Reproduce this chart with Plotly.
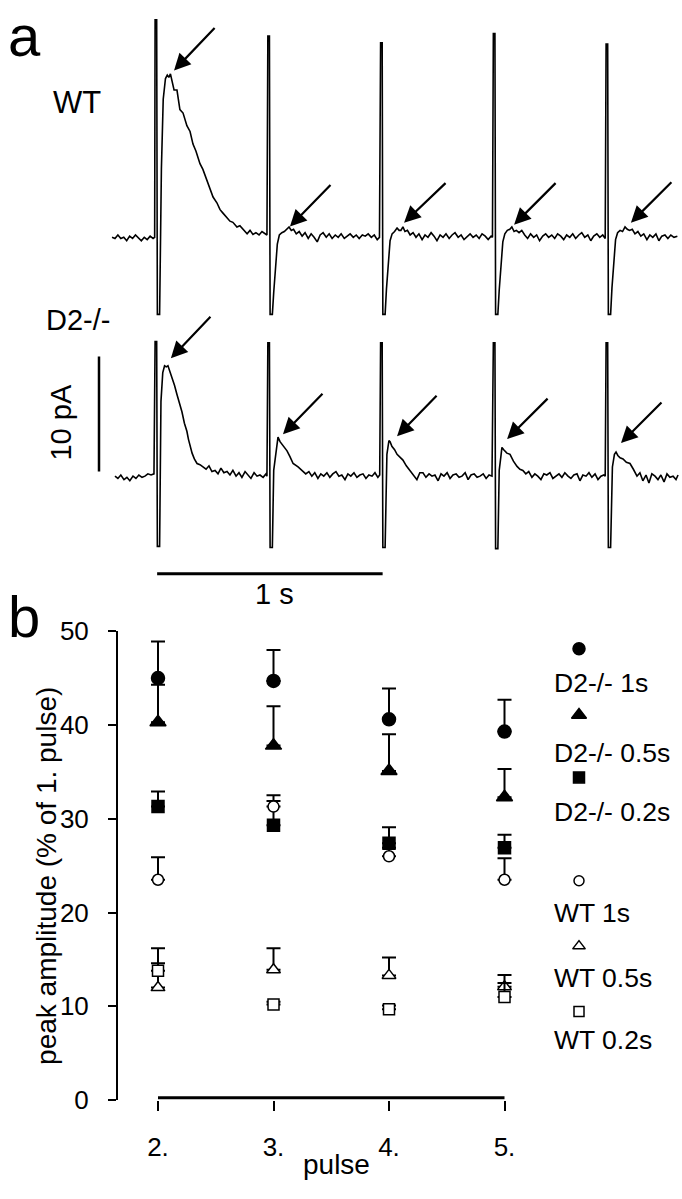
import plotly.graph_objects as go

# ---------------- Panel a: example current traces (time in ms, current in pA) -------------
WT_T = [-195, -182, -169, -156, -143, -130, -117, -104, -91, -78, -65, -52, -39, -26, -13, -6,
        -4, 3, 6, 16, 24, 32, 42, 50, 57, 64, 72, 80,
        93, 106, 120, 137, 151, 164, 177, 195, 208, 226, 239, 253, 270, 284, 297, 315, 328, 341,
        359, 372, 386, 404, 417, 430, 443, 457, 470, 483, 492,
        496, 503, 506, 516, 522, 530, 538, 547, 558, 569, 580, 590, 600, 610,
        622, 635, 648, 661, 675, 688, 701, 715, 728, 741, 755, 768, 781, 795, 808, 821, 835, 848,
        861, 875, 888, 901, 915, 928, 941, 955, 968, 981, 991,
        996, 1003, 1006, 1016, 1022, 1030, 1038, 1047, 1058, 1069, 1078, 1086, 1095, 1104, 1115,
        1127, 1140, 1153, 1166, 1180, 1193, 1206, 1220, 1233, 1246, 1260, 1273, 1286, 1300, 1313,
        1326, 1340, 1353, 1366, 1380, 1393, 1406, 1420, 1433, 1446, 1460, 1473, 1486, 1492,
        1496, 1503, 1506, 1516, 1522, 1530, 1538, 1547, 1558, 1569, 1578, 1588, 1598, 1610, 1622,
        1635, 1648, 1661, 1675, 1688, 1701, 1715, 1728, 1741, 1755, 1768, 1781, 1795, 1808, 1821,
        1835, 1848, 1861, 1875, 1888, 1901, 1915, 1928, 1941, 1955, 1968, 1981, 1992,
        1996, 2003, 2006, 2016, 2022, 2030, 2038, 2047, 2058, 2069, 2080, 2090, 2100, 2112, 2124,
        2137, 2150, 2163, 2177, 2190, 2203, 2217, 2230, 2243, 2257, 2270, 2283, 2297, 2312]
WT_I = [0.0, -0.1, 0.2, -0.1, 0.0, -0.3, 0.1, -0.1, 0.2, -0.1, -0.3, 0.0, -0.2, 0.1, -0.1, 0.0,
        18.9, 18.9, -6.7, -6.7, 6.0, 12.0, 13.8, 14.1, 13.9, 14.2, 13.6, 12.8,
        12.8, 11.1, 10.8, 9.7, 9.2, 8.1, 7.5, 6.4, 5.9, 4.9, 4.2, 3.5, 3.0, 2.4, 2.1, 1.7, 1.4, 1.3,
        0.9, 1.0, 0.7, 0.3, 0.6, 0.25, 0.4, 0.2, 0.5, 0.3, 0.2,
        17.5, 17.5, -6.7, -6.7, -4.8, -2.4, -0.6, 0.2, 0.4, 0.5, 0.7, 0.9, 0.6, 0.7,
        0.3, 0.5, 0.1, 0.4, -0.1, 0.3, 0.0, -0.4, 0.2, 0.4, 0.0, 0.3, -0.1, 0.2, 0.0, 0.3, -0.1, 0.1,
        0.3, 0.0, 0.2, -0.1, 0.2, 0.1, 0.3, 0.0, 0.2, -0.2, 0.0,
        16.9, 16.9, -6.7, -6.7, -4.5, -2.0, -0.3, 0.3, 0.5, 0.8, 0.6, 0.6, 0.9, 0.5, 0.6,
        0.2, 0.4, 0.0, 0.3, -0.2, 0.2, 0.0, 0.4, 0.1, -0.3, 0.2, 0.0, 0.3, -0.1, 0.2,
        0.4, 0.0, 0.2, -0.2, 0.1, 0.3, 0.0, 0.2, -0.1, 0.3, 0.1, -0.2, 0.1, 0.0,
        17.7, 17.7, -6.7, -6.7, -4.6, -2.2, -0.4, 0.3, 0.6, 0.7, 0.9, 0.5, 0.6, 0.4, 0.6,
        0.2, -0.1, 0.3, 0.0, 0.2, -0.3, 0.1, 0.3, 0.0, 0.2, -0.1, 0.3, 0.1, -0.2, 0.2,
        0.0, 0.3, -0.1, 0.2, 0.4, 0.0, 0.2, -0.3, 0.1, 0.3, 0.0, 0.2, -0.1,
        16.8, 16.8, -6.7, -6.7, -4.4, -2.0, -0.2, 0.4, 0.6, 0.5, 0.9, 0.7, 0.6, 0.7, 0.3,
        0.5, 0.1, 0.3, -0.2, 0.2, 0.0, 0.3, -0.3, 0.1, 0.2, -0.1, 0.2, 0.0, 0.1]

D2_T = [-182, -169, -156, -142, -129, -116, -102, -89, -76, -62, -49, -36, -22, -9,
        -4, 3, 6, 16, 22, 30, 38, 46, 53, 62, 72, 82, 93, 104, 115, 126, 137, 144, 151, 160, 170,
        182, 195, 208, 222, 235, 248, 262, 275, 288, 301, 315, 328, 341, 355, 368, 381, 395, 408,
        421, 435, 448, 461, 475, 488, 492,
        496, 503, 506, 516, 522, 528, 537, 541, 550, 563, 581, 594, 608, 630, 652,
        664, 678, 691, 704, 718, 731, 744, 758, 771, 784, 798, 811, 824, 838, 851, 864, 878, 891,
        904, 918, 931, 944, 958, 971, 984, 992,
        996, 1003, 1006, 1016, 1024, 1033, 1038, 1046, 1058, 1069, 1082, 1095, 1110, 1126, 1142,
        1157, 1170, 1184, 1197, 1211, 1224, 1237, 1251, 1264, 1277, 1291, 1304, 1317, 1331, 1344,
        1357, 1371, 1384, 1397, 1411, 1424, 1437, 1451, 1464, 1477, 1490,
        1496, 1503, 1506, 1516, 1522, 1530, 1534, 1542, 1556, 1570, 1585, 1601, 1614, 1627, 1640,
        1653, 1667, 1680, 1693, 1707, 1720, 1733, 1747, 1760, 1773, 1787, 1800, 1813, 1827, 1840,
        1853, 1867, 1880, 1893, 1907, 1920, 1933, 1947, 1960, 1973, 1986, 1992,
        1996, 2003, 2006, 2016, 2024, 2033, 2040, 2048, 2058, 2071, 2086, 2102, 2117, 2133, 2146,
        2159, 2173, 2186, 2199, 2213, 2226, 2239, 2253, 2266, 2279, 2293, 2306, 2315]
D2_I = [0.0, -0.2, 0.1, -0.3, -0.1, -0.4, 0.0, -0.2, 0.1, -0.1, 0.0, 0.2, 0.1, 0.2,
        11.7, 11.7, -6.1, -6.1, 6.5, 9.0, 9.6, 9.5, 9.6, 9.1, 8.6, 7.9, 7.1, 6.4, 5.6, 4.6, 3.9, 3.2, 2.6, 2.0, 1.5,
        1.1, 1.0, 0.8, 0.6, 0.9, 0.4, 0.5, 0.2, 0.7, 0.3, 0.4, 0.1, 0.5, 0.0, 0.3, -0.1, 0.4, 0.1,
        -0.2, 0.3, 0.0, 0.1, -0.1, 0.2, 0.0,
        11.6, 11.6, -6.2, -6.2, 0.5, 1.5, 2.8, 3.4, 3.0, 2.7, 2.2, 1.7, 1.1, 0.8, 0.4,
        0.2, 0.4, 0.0, 0.3, -0.2, 0.2, 0.0, 0.3, -0.1, 0.2, 0.4, 0.0, 0.1, -0.3, 0.2,
        0.0, 0.3, -0.1, 0.1, 0.2, -0.2, 0.1, 0.0, 0.3, -0.1, 0.1,
        11.6, 11.6, -6.2, -6.2, 1.9, 3.1, 3.0, 2.6, 2.3, 1.9, 1.6, 1.4, 0.9, 0.5, 0.1,
        -0.3, 0.3, 0.3, -0.1, 0.2, 0.0, 0.1, -0.4, 0.2, 0.0, 0.3, -0.2, 0.1, 0.2, -0.1,
        0.0, 0.3, -0.3, 0.1, 0.2, -0.1, 0.0, 0.2, -0.2, 0.1, 0.0,
        11.6, 11.6, -6.3, -6.3, 0.5, 1.8, 2.5, 2.3, 2.0, 1.9, 1.3, 0.85, 0.6, 0.5, 0.2,
        0.4, -0.1, 0.2, 0.0, -0.3, 0.2, 0.1, 0.3, -0.2, 0.0, 0.2, -0.1, 0.3, 0.0, -0.2,
        0.1, 0.2, -0.4, 0.1, 0.0, 0.3, -0.1, 0.2, -0.3, 0.0, 0.1, 0.0,
        11.6, 11.6, -6.2, -6.2, 0.8, 1.9, 2.1, 1.8, 1.6, 1.5, 1.2, 1.1, 0.6, 0.0, 0.3,
        -0.4, 0.1, -0.6, 0.2, 0.0, -0.3, 0.1, -0.5, 0.2, -0.1, 0.0, -0.3, 0.1]

# arrows (tip time ms, tip pA) marking the response peaks
WT_ARROWS = [(80, 14.5), (594, 0.93), (1100, 1.27), (1588, 1.1), (2106, 1.27)]
D2_ARROWS = [(66, 10.25), (563, 3.64), (1069, 3.47), (1557, 3.22), (2062, 2.88)]

# ---------------- Panel b: peak amplitude (% of 1. pulse) -------------
PULSES = [2, 3, 4, 5]
PULSE_LABELS = ["2.", "3.", "4.", "5."]
D2_1S = [45.0, 44.7, 40.6, 39.3]
D2_1S_ERR = [3.9, 3.3, 3.3, 3.4]
D2_05S = [40.3, 37.8, 35.1, 32.3]
D2_05S_ERR = [4.0, 4.2, 3.9, 3.0]
D2_02S = [31.3, 29.3, 27.4, 26.9]
D2_02S_ERR = [1.6, 2.6, 1.7, 1.4]
WT_1S = [23.5, 31.3, 26.0, 23.5]
WT_1S_ERR = [2.4, 1.2, 0.9, 2.3]
WT_05S = [12.0, 13.9, 13.3, 12.1]
WT_05S_ERR = [4.2, 2.3, 1.9, 1.25]
WT_02S = [13.8, 10.2, 9.7, 11.0]
WT_02S_ERR = [0.8, 0.3, 0.4, 1.5]

SERIES = [
    ("D2-/- 1s", D2_1S, D2_1S_ERR, "circle", 13, "black"),
    ("D2-/- 0.5s", D2_05S, D2_05S_ERR, "triangle-up", 14, "black"),
    ("D2-/- 0.2s", D2_02S, D2_02S_ERR, "square", 12, "black"),
    ("WT 1s", WT_1S, WT_1S_ERR, "circle", 11, "white"),
    ("WT 0.5s", WT_05S, WT_05S_ERR, "triangle-up", 12, "white"),
    ("WT 0.2s", WT_02S, WT_02S_ERR, "square", 11, "white"),
]

FONT = "Liberation Sans, Arial, Helvetica, sans-serif"
W, H = 682, 1199


def px(x):
    return x / W


def py(y):
    return 1 - y / H


fig = go.Figure()

# panel a axes: px = 156 + 0.2255 * t ; WT base at 228 px, D2 base at 473 px, 11.8 px/pA
T_SCALE = 0.2255
T0_PX = 156
I_SCALE = 11.8
t_range = [(0 - T0_PX) / T_SCALE, (W - T0_PX) / T_SCALE]
WT_BASE, D2_BASE = 228, 473
wt_top, wt_bot = 0, 330
d2_top, d2_bot = 330, 600

fig.add_trace(go.Scatter(x=WT_T, y=WT_I, mode="lines", line=dict(color="black", width=1.6),
                         xaxis="x", yaxis="y", showlegend=False, hoverinfo="skip"))
fig.add_trace(go.Scatter(x=D2_T, y=D2_I, mode="lines", line=dict(color="black", width=1.6),
                         xaxis="x", yaxis="y2", showlegend=False, hoverinfo="skip"))

# panel b series
for name, vals, err, sym, size, fill in SERIES:
    fig.add_trace(go.Scatter(
        x=PULSES, y=vals, mode="markers", name=name, showlegend=False,
        marker=dict(symbol=sym, size=size, color=fill, line=dict(color="black", width=1.5)),
        error_y=dict(type="data", symmetric=False, array=err, arrayminus=[0] * len(err),
                     color="black", thickness=2, width=7),
        xaxis="x2", yaxis="y3", cliponaxis=False))

# panel b legend (marker above label)
b_y0_px, b_y1_px = 1113, 632
b_x2_px, b_x5_px = 158, 504.5
unit_x = (b_x5_px - b_x2_px) / 3
unit_y = (b_y0_px - b_y1_px) / 50
leg_marker_py = [650, 718, 782, 888, 955, 1022]
leg_text_py = [685, 757, 817, 921, 988, 1051]
leg_x_val = 5 + (579 - b_x5_px) / unit_x
for (name, vals, err, sym, size, fill), mpy, tpy in zip(SERIES, leg_marker_py, leg_text_py):
    fig.add_trace(go.Scatter(
        x=[leg_x_val], y=[(b_y0_px - mpy) / unit_y], mode="markers", showlegend=False,
        marker=dict(symbol=sym, size=size - 1, color=fill, line=dict(color="black", width=1.5)),
        xaxis="x2", yaxis="y3", cliponaxis=False, hoverinfo="skip"))

annotations = []
for (name, *_), tpy in zip(SERIES, leg_text_py):
    annotations.append(dict(text=name, x=px(552), y=py(tpy), xref="paper", yref="paper",
                            xanchor="left", yanchor="middle", showarrow=False,
                            font=dict(size=26.5, color="black", family=FONT)))

# arrows
for (t, i), (ax, ay) in zip(WT_ARROWS, [(42, -44), (42, -43), (43, -41), (43, -43), (42, -42)]):
    annotations.append(dict(x=t, y=i, xref="x", yref="y", ax=ax, ay=ay, text="",
                            showarrow=True, arrowhead=2, arrowsize=1.5, arrowwidth=2.2,
                            arrowcolor="black"))
for (t, i), (ax, ay) in zip(D2_ARROWS, [(41, -43), (41, -42), (41, -42), (42, -42), (42, -42)]):
    annotations.append(dict(x=t, y=i, xref="x", yref="y2", ax=ax, ay=ay, text="",
                            showarrow=True, arrowhead=2, arrowsize=1.5, arrowwidth=2.2,
                            arrowcolor="black"))


# texts
def txt(s, x, y, size, angle=0, xanchor="center"):
    annotations.append(dict(text=s, x=px(x), y=py(y), xref="paper", yref="paper",
                            xanchor=xanchor, yanchor="middle", showarrow=False, textangle=angle,
                            font=dict(size=size, color="black", family=FONT)))


txt("a", 24, 21, 58)
txt("b", 24, 617, 58)
txt("WT", 77, 90, 31)
txt("D2-/-", 78, 313, 29)
txt("10 pA", 61, 418, 29, angle=-90)
txt("1 s", 274, 594, 29)
txt("peak amplitude (% of 1. pulse)", 47, 883, 28, angle=-90)
txt("pulse", 336, 1179, 28)

# scale bars and x baseline of panel b
shapes = [
    dict(type="line", xref="x", yref="y2", x0=(99 - T0_PX) / T_SCALE, x1=(99 - T0_PX) / T_SCALE,
         y0=0.4, y1=10.4, line=dict(color="black", width=2.5)),
    dict(type="line", xref="x", yref="y2", x0=5, x1=1005, y0=(D2_BASE - 573) / I_SCALE,
         y1=(D2_BASE - 573) / I_SCALE, line=dict(color="black", width=3)),
    dict(type="line", xref="x2", yref="y3", x0=2, x1=5, y0=0.25, y1=0.25,
         line=dict(color="black", width=3)),
]

b_left_px = 118
fig.update_layout(
    width=W, height=H, margin=dict(l=0, r=0, t=0, b=0),
    paper_bgcolor="white", plot_bgcolor="rgba(0,0,0,0)",
    font=dict(family=FONT, color="black"),
    showlegend=False,
    xaxis=dict(domain=[0, 1], range=t_range, visible=False, anchor="y"),
    yaxis=dict(domain=[py(wt_bot), py(wt_top)],
               range=[(WT_BASE - wt_bot) / I_SCALE, (WT_BASE - wt_top) / I_SCALE], visible=False,
               anchor="x"),
    yaxis2=dict(domain=[py(d2_bot), py(d2_top)],
                range=[(D2_BASE - d2_bot) / I_SCALE, (D2_BASE - d2_top) / I_SCALE], visible=False,
                anchor="x"),
    xaxis2=dict(domain=[px(b_left_px), 1],
                range=[2 - (b_x2_px - b_left_px) / unit_x, 5 + (W - b_x5_px) / unit_x],
                anchor="y3", showline=False, showgrid=False, zeroline=False,
                tickmode="array", tickvals=PULSES, ticktext=PULSE_LABELS,
                ticks="outside", ticklen=10, tickwidth=2, tickcolor="black",
                tickfont=dict(size=26, family=FONT, color="black"), ticklabelstandoff=14),
    yaxis3=dict(domain=[py(b_y0_px), py(b_y1_px)], range=[0, 50], anchor="x2",
                showline=True, linewidth=2, linecolor="black", showgrid=False, zeroline=False,
                tickmode="array", tickvals=[0, 10, 20, 30, 40, 50],
                ticks="outside", ticklen=8, tickwidth=2, tickcolor="black",
                tickfont=dict(size=26, family=FONT, color="black"), ticklabelstandoff=14),
    annotations=annotations, shapes=shapes,
)

fig.write_html("out.html", config={"displayModeBar": False},
               post_script="document.body.style.margin='0px';")
